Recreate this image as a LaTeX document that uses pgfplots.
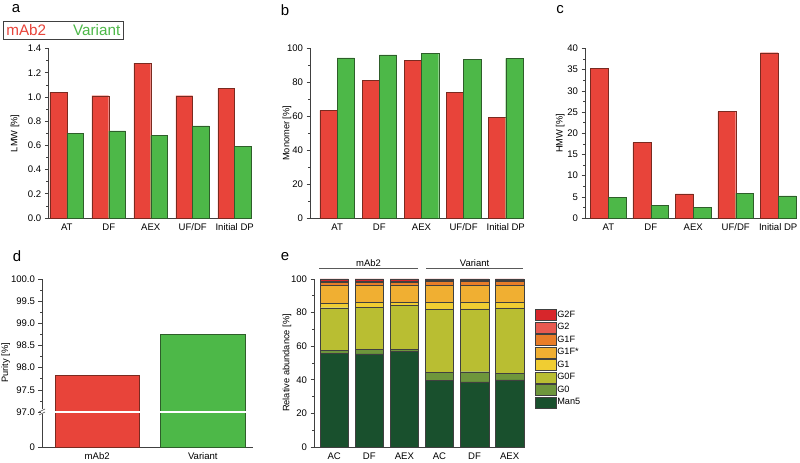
\documentclass[border=0pt]{standalone}
\usepackage{pgfplots}
\pgfplotsset{compat=1.18}
\usepackage{fontspec}
\setmainfont{Liberation Sans}
\definecolor{cred}{HTML}{E8443A}
\definecolor{cgreen}{HTML}{4DB848}
\definecolor{ered}{HTML}{7A2A20}
\definecolor{egreen}{HTML}{2E5E2A}
\definecolor{cG2F}{HTML}{D7262B}
\definecolor{cG2}{HTML}{E85A50}
\definecolor{cG1F}{HTML}{E87D28}
\definecolor{cG1Fs}{HTML}{F0AF32}
\definecolor{cG1}{HTML}{F0CD32}
\definecolor{cG0F}{HTML}{B9BE32}
\definecolor{cG0}{HTML}{6E963C}
\definecolor{cMan}{HTML}{19502D}
\definecolor{axc}{HTML}{404040}
\pgfplotsset{
  base/.style={
    scale only axis,
    axis x line*=bottom, axis y line*=left,
    axis line style={axc, line width=0.6bp},
    tick align=outside,
    /pgf/number format/assume math mode=true,
    tick label style={font=\fontsize{9.6}{10}\selectfont},
    label style={font=\fontsize{9.3}{10}\selectfont},
    major tick length=3.5bp, minor tick length=2bp,
    tick style={axc, line width=0.6bp},
    minor y tick num=1,
    xtick style={draw=none},
    ymin=0, clip=false,
  },
  ylab/.style={ylabel style={at={(axis description cs:#1,0.5)}, anchor=center}},
  grp/.style={base, ybar=0pt, width=204bp, height=169.5bp,
    xtick={0,1,2,3,4}, xticklabels={AT,DF,AEX,UF/DF,Initial DP},
    xticklabel style={yshift=1bp}},
  boxlegend/.style={legend image code/.code={\draw[##1, line width=0.4bp] (0bp,-5.5bp) rectangle (21bp,5.5bp);}},
}
\pgfplotstableread{
x mab var
0 1.04 0.70
1 1.01 0.72
2 1.28 0.68
3 1.01 0.76
4 1.07 0.59
}\lmw
\pgfplotstableread{
x mab var
0 63.5 94.5
1 81.0 96.3
2 93.0 97.0
3 74.0 93.5
4 59.5 94.2
}\mono
\pgfplotstableread{
x mab var
0 35.3 4.8
1 17.8 3.0
2 5.7 2.5
3 25.1 5.8
4 39.0 5.2
}\hmw
\pgfplotstableread{
x Man5 G0 G0F G1 G1Fs G1F G2 G2F
0 55.8 1.8 25.3 2.6 10.9 1.4 1.0 1.2
1 55.4 2.6 25.0 2.9 10.5 1.4 1.0 1.2
2 57.0 1.3 26.0 1.7 10.5 1.3 1.0 1.2
3 39.6 5.0 37.2 4.4 10.0 2.6 0.4 0.8
4 38.8 6.0 37.4 4.2 9.8 2.6 0.4 0.8
5 40.0 4.0 38.8 3.6 9.8 2.6 0.4 0.8
}\glyc
\begin{document}
\begin{tikzpicture}[x=1bp,y=1bp]
\path[use as bounding box] (0,0) rectangle (800,463);
\node[font=\fontsize{15}{15}\selectfont] at (16,454) {a};
\node[font=\fontsize{15}{15}\selectfont] at (285,453) {b};
\node[font=\fontsize{15}{15}\selectfont] at (560,453) {c};
\node[font=\fontsize{15}{15}\selectfont] at (17,207) {d};
\node[font=\fontsize{15}{15}\selectfont] at (285,206) {e};
% panel a
\begin{axis}[grp, at={(48.3bp,245bp)}, anchor=south west,
  xmin=-0.44, xmax=4.42, ymax=1.4, bar width=0.4,
  ytick={0,0.2,...,1.4},
  yticklabel style={/pgf/number format/.cd, fixed, fixed zerofill, precision=1},
  ylabel={LMW [\%]}, ylab=-0.163,
  legend image code/.code={},
  legend style={at={(axis description cs:-0.222,1.05)}, anchor=south west,
    legend columns=2, draw=axc, line width=0.6bp, inner sep=1bp,
    font=\fontsize{15.3}{16}\selectfont,
    /tikz/every even column/.append style={column sep=23bp}},
  ]
\addplot[fill=cred, draw=ered, line width=0.4bp] table[x=x,y=mab] {\lmw};
\addlegendentry{\textcolor{cred}{mAb2}}
\addplot[fill=cgreen, draw=egreen, line width=0.4bp] table[x=x,y=var] {\lmw};
\addlegendentry{\textcolor{cgreen}{Variant}}
\end{axis}
% panel b
\begin{axis}[grp, at={(310bp,245bp)}, anchor=south west, width=213bp,
  xmin=-0.645, xmax=4.41, ymax=100, bar width=0.41,
  ytick={0,20,...,100}, ylabel={Monomer [\%]}, ylab=-0.108]
\addplot[fill=cred, draw=ered, line width=0.4bp] table[x=x,y=mab] {\mono};
\addplot[fill=cgreen, draw=egreen, line width=0.4bp] table[x=x,y=var] {\mono};
\end{axis}
% panel c
\begin{axis}[grp, at={(585bp,245bp)}, anchor=south west, width=211bp,
  xmin=-0.55, xmax=4.42, ymax=40, bar width=0.42,
  ytick={0,5,...,40}, ylabel={HMW [\%]}, ylab=-0.118]
\addplot[fill=cred, draw=ered, line width=0.4bp] table[x=x,y=mab] {\hmw};
\addplot[fill=cgreen, draw=egreen, line width=0.4bp] table[x=x,y=var] {\hmw};
\end{axis}
% panel d
\begin{axis}[base, ybar, at={(42bp,16bp)}, anchor=south west, width=211bp, height=168bp,
  xmin=-0.523, xmax=1.475, ymax=3.79, bar width=0.8,
  y filter/.expression={y-96.21},
  xtick={0,1}, xticklabels={mAb2,Variant}, xticklabel style={yshift=1bp},
  ytick={0,0.79,1.29,1.79,2.29,2.79,3.29,3.79},
  yticklabels={0,97.0,97.5,98.0,98.5,99.0,99.5,100.0},
  minor y tick num=0, minor ytick={1.04,1.54,2.04,2.54,3.04,3.54},
  ylabel={Purity [\%]}, ylab=-0.172]
\addplot[fill=cred, draw=ered, line width=0.4bp, bar shift=0pt] coordinates {(0,97.84)};
\addplot[fill=cgreen, draw=egreen, line width=0.4bp, bar shift=0pt] coordinates {(1,98.75)};
\draw[white, line width=2.5bp] (axis cs:-0.42,0.79) -- (axis cs:1.42,0.79);
\fill[white] ([xshift=-1.5bp,yshift=-2.5bp]axis cs:-0.523,0.79) rectangle ([xshift=1.5bp,yshift=2.5bp]axis cs:-0.523,0.79);
\draw[axc, line width=0.6bp] ([xshift=-3bp,yshift=-3bp]axis cs:-0.523,0.79) -- ([xshift=3bp,yshift=0bp]axis cs:-0.523,0.79);
\draw[axc, line width=0.6bp] ([xshift=-3bp,yshift=0bp]axis cs:-0.523,0.79) -- ([xshift=3bp,yshift=3bp]axis cs:-0.523,0.79);
\end{axis}
% panel e
\begin{axis}[base, ybar stacked, at={(314bp,16bp)}, anchor=south west, width=210bp, height=168bp,
  xmin=-0.576, xmax=5.41, ymax=100, bar width=0.81,
  xtick={0,...,5}, xticklabels={AC,DF,AEX,AC,DF,AEX}, xticklabel style={yshift=1bp},
  ytick={0,20,...,100}, ylabel={Relative abundance [\%]}, ylab=-0.129,
  reverse legend,
  legend cell align=left,
  legend style={at={(axis description cs:1.052,0.821)}, anchor=north west,
    draw=none, fill=none, inner sep=0pt, row sep=1.1bp,
    font=\fontsize{9.2}{10}\selectfont,
    nodes={inner sep=0.8bp}},
  ]
\addplot[fill=cMan, draw=black!75, line width=0.4bp, boxlegend] table[x=x,y=Man5] {\glyc};
\addlegendentry{Man5}
\addplot[fill=cG0, draw=black!75, line width=0.4bp, boxlegend] table[x=x,y=G0] {\glyc};
\addlegendentry{G0}
\addplot[fill=cG0F, draw=black!75, line width=0.4bp, boxlegend] table[x=x,y=G0F] {\glyc};
\addlegendentry{G0F}
\addplot[fill=cG1, draw=black!75, line width=0.4bp, boxlegend] table[x=x,y=G1] {\glyc};
\addlegendentry{G1}
\addplot[fill=cG1Fs, draw=black!75, line width=0.4bp, boxlegend] table[x=x,y=G1Fs] {\glyc};
\addlegendentry{G1F*}
\addplot[fill=cG1F, draw=black!75, line width=0.4bp, boxlegend] table[x=x,y=G1F] {\glyc};
\addlegendentry{G1F}
\addplot[fill=cG2, draw=black!75, line width=0.4bp, boxlegend] table[x=x,y=G2] {\glyc};
\addlegendentry{G2}
\addplot[fill=cG2F, draw=black!75, line width=0.4bp, boxlegend] table[x=x,y=G2F] {\glyc};
\addlegendentry{G2F}
\draw[black!65, line width=0.8bp] (axis cs:-0.433,106.5) -- (axis cs:2.39,106.5);
\draw[black!65, line width=0.8bp] (axis cs:2.617,106.5) -- (axis cs:5.38,106.5);
\node[font=\fontsize{9.5}{10}\selectfont, anchor=base] at (axis cs:0.98,107.4) {mAb2};
\node[font=\fontsize{9.5}{10}\selectfont, anchor=base] at (axis cs:4.0,107.4) {Variant};
\end{axis}
\end{tikzpicture}
\end{document}
